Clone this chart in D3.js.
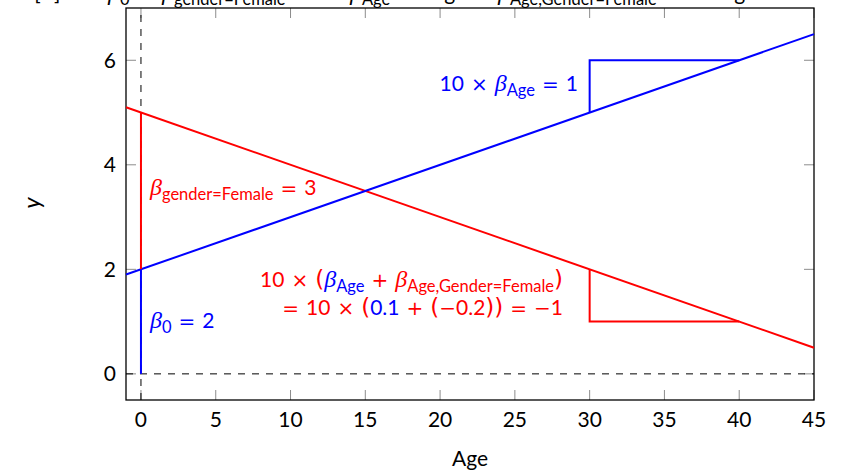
<!DOCTYPE html>
<html><head><meta charset="utf-8">
<script src="https://cdn.jsdelivr.net/npm/d3@7"></script>
<style>body{margin:0;background:#fff}svg text{font-family:Lato,"Open Sans",sans-serif}</style>
</head><body><svg id="c" width="845" height="473"></svg>
<script>
// data
const xDomain = [-1, 45];
const yDomain = [-0.5, 7];
const xTicks = [0,5,10,15,20,25,30,35,40,45];
const yTicks = [0,2,4,6];
const beta0 = 2, betaGender = 3, betaAge = 0.1, betaAgeGender = -0.2;
const blueLine = [[-1, beta0 + betaAge*-1],[45, beta0 + betaAge*45]];
const redLine = [[-1, beta0+betaGender+(betaAge+betaAgeGender)*-1],[45, beta0+betaGender+(betaAge+betaAgeGender)*45]];
const blueStem = [[0,0],[0,2]];
const redStem = [[0,2],[0,5]];
const blueTri = [[30,5],[30,6],[40,6]];
const redTri = [[30,2],[30,1],[40,1]];

const svg = d3.select('#c');
const L=126, R=814, T=8, B=400;
const x = d3.scaleLinear().domain(xDomain).range([L,R]);
const y = d3.scaleLinear().domain(yDomain).range([B,T]);
const line = d3.line().x(d=>x(d[0])).y(d=>y(d[1]));
const BLUE='#0000ff', RED='#ff0000';

// ticks (inside, gray)
const tk = svg.append('g').attr('stroke','#8c8c8c').attr('stroke-width',1);
xTicks.forEach(t=>{
  tk.append('line').attr('x1',x(t)).attr('x2',x(t)).attr('y1',B).attr('y2',B-10);
  tk.append('line').attr('x1',x(t)).attr('x2',x(t)).attr('y1',T).attr('y2',T+10);
});
yTicks.forEach(t=>{
  tk.append('line').attr('y1',y(t)).attr('y2',y(t)).attr('x1',L).attr('x2',L+10);
  tk.append('line').attr('y1',y(t)).attr('y2',y(t)).attr('x1',R).attr('x2',R-10);
});
// tick labels
svg.append('g').selectAll('text').data(xTicks).join('text')
  .attr('x',d=>x(d)).attr('y',427).attr('text-anchor','middle').attr('font-size',21).text(d=>d);
svg.append('g').selectAll('text').data(yTicks).join('text')
  .attr('x',116).attr('y',d=>y(d)+7.5).attr('text-anchor','end').attr('font-size',21).text(d=>d);

// dashed reference lines
svg.append('path').attr('d',line([[0,yDomain[0]],[0,yDomain[1]]])).attr('stroke','#000').attr('stroke-width',1).attr('stroke-dasharray','7,7').attr('fill','none');
svg.append('path').attr('d',line([[xDomain[0],0],[xDomain[1],0]])).attr('stroke','#000').attr('stroke-width',1).attr('stroke-dasharray','7,7').attr('fill','none');

// frame
svg.append('rect').attr('x',L).attr('y',T).attr('width',R-L).attr('height',B-T).attr('fill','none').attr('stroke','#000').attr('stroke-width',1.3);

const g = svg.append('g').attr('fill','none').attr('stroke-width',2);
g.append('path').attr('d',line(redLine)).attr('stroke',RED);
g.append('path').attr('d',line(blueLine)).attr('stroke',BLUE);
g.append('path').attr('d',line(redStem)).attr('stroke',RED);
g.append('path').attr('d',line(blueStem)).attr('stroke',BLUE);
g.append('path').attr('d',line(blueTri)).attr('stroke',BLUE);
g.append('path').attr('d',line(redTri)).attr('stroke',RED);

// math text helper
// kinds: t = text, b = italic beta, s = subscript, o = spaced operator, u = unary/leading op, p = paren
const GAP = 7;
function mtext(sel, parts){
  let low = false, pendingGap = 0;
  parts.forEach((p,i)=>{
    const [kind, s, fill] = p;
    const ts = sel.append('tspan').text(s);
    let dx = pendingGap; pendingGap = 0;
    if(kind==='o'){ if(i>0) dx += GAP; pendingGap = GAP; }
    if(kind==='u' && i===0){ pendingGap = GAP; }
    if(dx) ts.attr('dx',dx);
    if(kind==='s'){ if(!low){ts.attr('dy',5); low=true;} ts.attr('font-size',16.5); }
    else { if(low){ts.attr('dy',-5); low=false;} }
    if(kind==='b') ts.attr('font-family','"Liberation Serif",serif').attr('font-style','italic').attr('font-size',24);
    if(kind==='o'||kind==='u') ts.attr('font-family','"DejaVu Sans",sans-serif').attr('font-size',20);
    if(kind==='p') ts.attr('font-family','"DejaVu Sans",sans-serif').attr('font-size',23);
    if(fill) ts.attr('fill',fill);
  });
  return sel;
}

// annotations
const t1 = svg.append('text').attr('x',578).attr('y',91).attr('text-anchor','end').attr('font-size',21).attr('fill',BLUE);
mtext(t1,[['t','10'],['o','×'],['b','β'],['s','Age'],['o','='],['t','1']]);

const t2 = svg.append('text').attr('x',150).attr('y',195).attr('font-size',21).attr('fill',RED);
mtext(t2,[['b','β'],['s','gender=Female'],['o','='],['t','3']]);

const t3 = svg.append('text').attr('x',563).attr('y',287).attr('text-anchor','end').attr('font-size',21).attr('fill',RED);
mtext(t3,[['t','10'],['o','×'],['p','('],['b','β',BLUE],['s','Age',BLUE],['o','+'],['b','β'],['s','Age,Gender=Female'],['p',')']]);
const t4 = svg.append('text').attr('x',563).attr('y',315).attr('text-anchor','end').attr('font-size',21).attr('fill',RED);
mtext(t4,[['u','='],['t','10'],['o','×'],['p','('],['t','0.1',BLUE],['o','+'],['p','('],['u','−'],['t','0.2'],['p','))'],['o','='],['u','−'],['t','1']]);

const t5 = svg.append('text').attr('x',150).attr('y',328).attr('font-size',21).attr('fill',BLUE);
mtext(t5,[['b','β'],['s','0'],['o','='],['t','2']]);

// axis labels
svg.append('text').attr('x',470).attr('y',466).attr('text-anchor','middle').attr('font-size',21).text('Age');
svg.append('text').attr('transform','translate(40,203) rotate(-90)').attr('text-anchor','middle')
  .attr('font-family','"Liberation Serif",serif').attr('font-style','italic').attr('font-size',23).text('y');

// title (cut off at top edge, as in the reference)
const titleParts = [
  {x:22, parts:[['t','E[Y]'],['o','=']]},
  {x:108, parts:[['b','β'],['s','0'],['o','+']]},
  {x:162, parts:[['b','β'],['s','gender=Female']]},
  {x:350, parts:[['b','β'],['s','Age']]},
  {x:430, parts:[['t','Age']]},
  {x:498, parts:[['b','β'],['s','Age,Gender=Female']]},
  {x:720, parts:[['t','Age']]}
];
titleParts.forEach(tp=>{
  const tt = svg.append('text').attr('x',tp.x).attr('y',0).attr('font-size',21).attr('fill','#000');
  mtext(tt, tp.parts);
});
</script></body></html>
